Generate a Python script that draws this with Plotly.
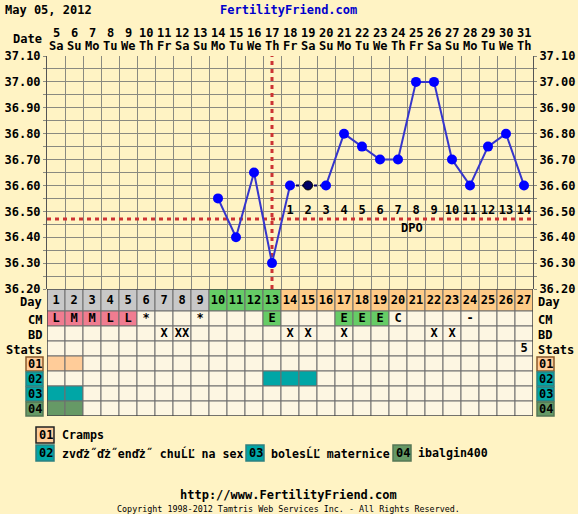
import plotly.graph_objects as go

W, H = 578, 514
MONO = "DejaVu Sans Mono"

# ---------------- data ----------------
date_labels = [5, 6, 7, 8, 9, 10, 11, 12, 13, 14, 15, 16, 17, 18, 19, 20, 21, 22, 23, 24, 25, 26, 27, 28, 29, 30, 31]
weekday_labels = ["Sa", "Su", "Mo", "Tu", "We", "Th", "Fr", "Sa", "Su", "Mo", "Tu", "We", "Th", "Fr",
                  "Sa", "Su", "Mo", "Tu", "We", "Th", "Fr", "Sa", "Su", "Mo", "Tu", "We", "Th"]
cycle_days = list(range(1, 28))

temp_days = [10, 11, 12, 13, 14, 15, 16, 17, 18, 19, 20, 21, 22, 23, 24, 25, 26, 27]
temps = [36.55, 36.40, 36.65, 36.30, 36.60, 36.60, 36.60, 36.80, 36.75, 36.70, 36.70,
         37.00, 37.00, 36.70, 36.60, 36.75, 36.80, 36.60]
discarded_day = 15
coverline = 36.47
ovulation_day = 13
dpo_days = [14, 15, 16, 17, 18, 19, 20, 21, 22, 23, 24, 25, 26, 27]
dpo_labels = [1, 2, 3, 4, 5, 6, 7, 8, 9, 10, 11, 12, 13, 14]

day_phase = ["pre"] * 9 + ["fertile"] * 4 + ["post"] * 14
cm_labels = ["L", "M", "M", "L", "L", "*", "", "", "*", "", "", "", "E", "", "", "", "E", "E", "E", "C",
             "", "", "", "-", "", "", ""]
bd_labels = ["", "", "", "", "", "", "X", "XX", "", "", "", "", "", "X", "X", "", "X", "", "", "",
             "", "X", "X", "", "", "", ""]
stats_labels = [""] * 26 + ["5"]
symptom_codes = ["01", "02", "03", "04"]
symptom_names = ["Cramps", "zvďż˝ďż˝enďż˝ chuĹĽ na sex", "bolesĹĽ maternice", "ibalgin400"]
symptom_days = {"01": [1, 2], "02": [13, 14, 15], "03": [1, 2], "04": [1, 2]}

# ---------------- styles ----------------
BG = "#FFF3C4"
EMPTY = "#FDF6E2"
GRID = "#8A8A80"
phase_colors = {"pre": "#C8C8C8", "fertile": "#66CC66", "post": "#FFCC88"}
cm_colors = {"L": "#F07C90", "M": "#F07C90", "E": "#66CC66"}
symptom_colors = {"01": "#FFCC99", "02": "#00A6A6", "03": "#00A6A6", "04": "#669966"}
symptom_border = {"01": "#8B5A2B", "02": "#2F8080", "03": "#2F8080", "04": "#557755"}


def pxx(x):
    return x / W


def pyy(y):
    return 1 - y / H


BF = dict(family=MONO, size=12, color="black", weight="bold")
LF = dict(family=MONO, size=11.6, color="black", weight="bold")

# table rows (pixel heights)
row_names = ["Day", "CM", "BD", "Stats", "01", "02", "03", "04"]
row_h = [22, 15, 15, 15, 15, 15, 15, 15]
edges = [0]
for h in row_h:
    edges.append(edges[-1] + h)
TABLE_TOP, TABLE_BOT = 289, 289 + edges[-1]
PLOT_L, PLOT_R, PLOT_T = 47, 533, 56

fig = go.Figure()

# ---------------- temperature traces ----------------
fig.add_trace(go.Scatter(
    x=[d for d in temp_days if abs(d - discarded_day) <= 1],
    y=[t for d, t in zip(temp_days, temps) if abs(d - discarded_day) <= 1],
    mode="lines", line=dict(color="#000066", width=2, dash="3px,3px"),
    xaxis="x", yaxis="y", hoverinfo="skip", showlegend=False))
solid_y = [None if d == discarded_day else t for d, t in zip(temp_days, temps)]
fig.add_trace(go.Scatter(
    x=temp_days, y=solid_y, mode="lines+markers",
    line=dict(color="#3535CC", width=2),
    marker=dict(color="#0000FF", size=10),
    connectgaps=False, xaxis="x", yaxis="y", showlegend=False))
fig.add_trace(go.Scatter(
    x=[discarded_day], y=[temps[temp_days.index(discarded_day)]], mode="markers",
    marker=dict(color="#000066", size=9, line=dict(color="black", width=1)),
    xaxis="x", yaxis="y", showlegend=False))

# DPO labels
fig.add_trace(go.Scatter(
    x=dpo_days, y=[36.503] * len(dpo_days), mode="text",
    text=[str(v) for v in dpo_labels], textfont=BF,
    xaxis="x", yaxis="y", hoverinfo="skip", showlegend=False))

shapes = []
# coverline and ovulation line
shapes.append(dict(type="line", xref="x", yref="y", x0=0.5, x1=27.5, y0=coverline, y1=coverline,
                   line=dict(color="#CC3333", width=3, dash="4px,4px"), layer="between"))
shapes.append(dict(type="line", xref="x", yref="y", x0=ovulation_day, x1=ovulation_day, y0=36.2, y1=37.1,
                   line=dict(color="#CC3333", width=3, dash="4px,4px"), layer="between"))

# ---------------- table ----------------
def cell_color(r, i):
    name = row_names[r]
    day = i + 1
    if name == "Day":
        return phase_colors[day_phase[i]]
    if name == "CM":
        return cm_colors.get(cm_labels[i], EMPTY)
    if name in symptom_days and day in symptom_days[name]:
        return symptom_colors[name]
    return EMPTY


for r in range(len(row_names)):
    for i in range(len(cycle_days)):
        shapes.append(dict(type="rect", xref="x", yref="y3",
                           x0=cycle_days[i] - 0.5, x1=cycle_days[i] + 0.5,
                           y0=edges[r], y1=edges[r + 1],
                           fillcolor=cell_color(r, i), line=dict(color="#6E6E6E", width=1),
                           layer="between"))
shapes.append(dict(type="rect", xref="x", yref="y3", x0=0.5, x1=27.5, y0=0, y1=edges[-1],
                   line=dict(color="#333333", width=1), layer="between"))

centers = [(edges[r] + edges[r + 1]) / 2 for r in range(len(row_names))]
for r, labels in [(0, [str(d) for d in cycle_days]), (1, cm_labels), (2, bd_labels), (3, stats_labels)]:
    fig.add_trace(go.Scatter(
        x=cycle_days, y=[centers[r] + 0.5] * len(cycle_days), mode="text",
        text=labels, textfont=BF, xaxis="x", yaxis="y3",
        hoverinfo="skip", showlegend=False))

annotations = []


def ann(text, x, y, xanchor="center", font=None, xref="paper", yref="paper", yanchor="middle"):
    annotations.append(dict(text=text, x=x, y=y, xref=xref, yref=yref, showarrow=False,
                            xanchor=xanchor, yanchor=yanchor, font=font or BF))


# row labels left/right
for r, name in enumerate(row_names):
    cy = TABLE_TOP + centers[r] + 0.5
    if name in symptom_colors:
        for bx0, bx1 in [(26, 43), (537, 554)]:
            shapes.append(dict(type="rect", xref="paper", yref="paper",
                               x0=pxx(bx0), x1=pxx(bx1), y0=pyy(cy - 7), y1=pyy(cy + 7),
                               fillcolor=symptom_colors[name],
                               line=dict(color=symptom_border[name], width=1.5)))
            ann(name, pxx((bx0 + bx1) / 2 + 0.5), pyy(cy))
    else:
        ann(name, pxx(44), pyy(cy + 1), xanchor="right")
        ann(name, pxx(536), pyy(cy + 1), xanchor="left")

# header
ann("May 05, 2012", pxx(3), pyy(10), xanchor="left")
ann("FertilityFriend.com", pxx(288), pyy(10), font=dict(family=MONO, size=12, color="#0000CC", weight="bold"))
ann("Date", pxx(44), pyy(39), xanchor="right")
for d, wd, cd in zip(date_labels, weekday_labels, cycle_days):
    ann(str(d), cd, pyy(33), xref="x")
    ann(wd, cd, pyy(46), xref="x")
ann("DPO", 20.8, 36.437, xref="x", yref="y")

# legend
leg_rows = [(435, [(0, 36, 60)]), (453, [(1, 36, 60), (2, 246, 269), (3, 393, 416)])]
for cy, items in leg_rows:
    for k, bx, tx in items:
        code = symptom_codes[k]
        shapes.append(dict(type="rect", xref="paper", yref="paper",
                           x0=pxx(bx), x1=pxx(bx + 18), y0=pyy(cy - 8), y1=pyy(cy + 8),
                           fillcolor=symptom_colors[code],
                           line=dict(color=symptom_border[code] if code != "01" else "#222222", width=1.5)))
        ann(code, pxx(bx + 9.5), pyy(cy))
        ann(symptom_names[k], pxx(tx), pyy(cy), xanchor="left", font=LF)

# footer
ann("http://www.FertilityFriend.com", pxx(288), pyy(495))
ann("Copyright 1998-2012 Tamtris Web Services Inc. - All Rights Reserved.", pxx(288), pyy(509),
    font=dict(family=MONO, size=8.4, color="black"))

# invisible anchor trace for table axis
fig.add_trace(go.Scatter(x=[1], y=[0], mode="markers", marker=dict(opacity=0),
                         xaxis="x", yaxis="y3", hoverinfo="skip", showlegend=False))

tickvals = [round(36.20 + 0.05 * k, 2) for k in range(19)]
ticktext = [f"{v:.2f}" if k % 2 == 0 else "" for k, v in enumerate(tickvals)]

fig.update_layout(
    width=W, height=H, template="none",
    margin=dict(l=0, r=0, t=0, b=0, autoexpand=False),
    paper_bgcolor=BG, plot_bgcolor=BG,
    showlegend=False,
    xaxis=dict(domain=[pxx(PLOT_L), pxx(PLOT_R)], range=[0.5, 27.5], anchor="y",
               tickvals=[k + 0.5 for k in range(28)], showticklabels=False, ticks="",
               showgrid=True, gridcolor=GRID, gridwidth=1, zeroline=False,
               showline=False, automargin=False, fixedrange=True),
    yaxis=dict(domain=[pyy(TABLE_TOP), pyy(PLOT_T)], range=[36.2, 37.1], anchor="x",
               tickvals=tickvals, ticktext=ticktext, tickfont=BF, ticks="outside",
               ticklen=3, tickcolor=GRID, showgrid=True, gridcolor=GRID, gridwidth=1,
               zeroline=False, showline=True, linecolor="#555555", linewidth=1,
               automargin=False, fixedrange=True),
    yaxis2=dict(overlaying="y", side="right", anchor="x", range=[36.2, 37.1],
                tickvals=tickvals, ticktext=ticktext, tickfont=BF, ticks="outside",
                ticklen=3, tickcolor=GRID, showgrid=False, zeroline=False,
                showline=True, linecolor="#555555", linewidth=1,
                automargin=False, fixedrange=True),
    yaxis3=dict(domain=[pyy(TABLE_BOT), pyy(TABLE_TOP)], range=[edges[-1], 0], anchor="x",
                showgrid=False, showticklabels=False, ticks="", zeroline=False,
                automargin=False, fixedrange=True),
    shapes=shapes, annotations=annotations,
)
# a trace on yaxis2 so the right axis renders
fig.add_trace(go.Scatter(x=[1], y=[36.5], mode="markers", marker=dict(opacity=0),
                         xaxis="x", yaxis="y2", hoverinfo="skip", showlegend=False))

fig.write_html("out.html", config={"displayModeBar": False},
               post_script="document.body.style.margin='0px';document.body.style.overflow='hidden';")
